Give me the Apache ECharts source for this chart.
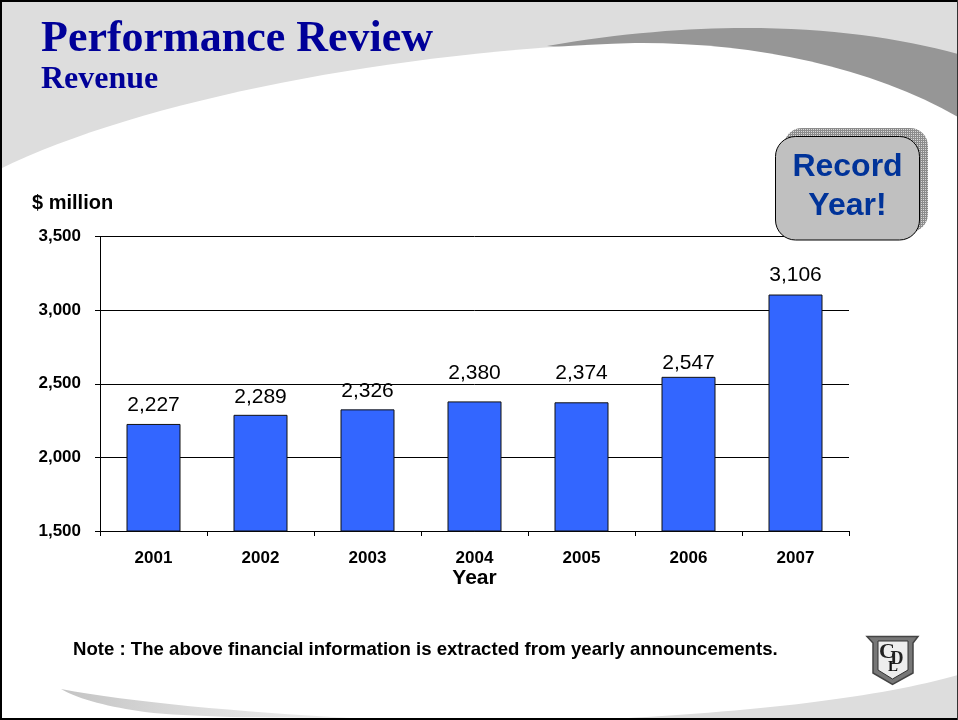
<!DOCTYPE html>
<html lang="en" style="height: 100%">

<head>
  <meta charset="utf-8">
</head>

<body style="height: 100%; margin: 0; background: #fff">
  <div id="container" style="height: 100%"></div>

  <script type="text/javascript" src="https://cdn.jsdelivr.net/npm/echarts@6/dist/echarts.min.js"></script>

  <script type="text/javascript">
    var years = ['2001', '2002', '2003', '2004', '2005', '2006', '2007'];
    var revenue = [2227, 2289, 2326, 2380, 2374, 2547, 3106];
    var yTicks = { min: 1500, max: 3500, interval: 500 };

    var titleText = 'Performance Review';
    var subtitleText = 'Revenue';
    var noteText = 'Note : The above financial information is extracted from yearly announcements.';
    var calloutText = 'Record\nYear!';

    // the value labels were hand-placed in the original, not a constant gap
    var labelGap = [8, 7, 8, 18, 19, 3, 9];

    var dom = document.getElementById('container');
    var myChart = echarts.init(dom, null, { renderer: 'canvas' });

    function fmt(v) {
      return String(v).replace(/\B(?=(\d{3})+$)/g, ',');
    }

    // the graphic component has no plain svg path type, so register each one
    function svgShape(name, pathData) {
      echarts.graphic.registerShape(name, echarts.graphic.extendPath(pathData, {}));
      return name;
    }

    // hatched shadow behind the callout
    var hatch = document.createElement('canvas');
    hatch.width = 2;
    hatch.height = 2;
    var hctx = hatch.getContext('2d');
    hctx.fillStyle = '#d8d8d8';
    hctx.fillRect(0, 0, 2, 2);
    hctx.fillStyle = '#8c8c8c';
    hctx.fillRect(0, 0, 1, 2);
    hctx.fillRect(0, 0, 2, 1);

    var SANS = '"Liberation Sans", Arial, sans-serif';
    var SERIF = '"Liberation Serif", serif';

    var option = {
      animation: false,
      backgroundColor: '#fff',
      title: {
        text: titleText,
        subtext: subtitleText,
        left: 41,
        top: 18,
        padding: 0,
        itemGap: 2,
        textStyle: { fontFamily: SERIF, fontSize: 44, fontWeight: 'bold', color: '#000099' },
        subtextStyle: { fontFamily: SERIF, fontSize: 32, fontWeight: 'bold', color: '#000099' }
      },
      grid: { left: 100, right: 109, top: 236.5, height: 294.5 },
      xAxis: {
        type: 'category',
        data: years,
        name: 'Year',
        nameLocation: 'middle',
        nameGap: 35,
        nameTextStyle: { fontFamily: SANS, fontSize: 21, fontWeight: 'bold', color: '#000' },
        axisLine: { lineStyle: { color: '#000', width: 1 } },
        axisTick: { show: true, alignWithLabel: false, length: 5, lineStyle: { color: '#000' } },
        axisLabel: { fontFamily: SANS, fontSize: 17, fontWeight: 'bold', color: '#000', margin: 19 }
      },
      yAxis: {
        type: 'value',
        min: yTicks.min,
        max: yTicks.max,
        interval: yTicks.interval,
        name: '$ million',
        nameLocation: 'end',
        nameGap: 23,
        nameTextStyle: { fontFamily: SANS, fontSize: 20, fontWeight: 'bold', color: '#000', align: 'left', padding: [0, 0, 0, -68] },
        axisLine: { show: true, lineStyle: { color: '#000', width: 1 } },
        axisTick: { show: true, length: 5, lineStyle: { color: '#000' } },
        splitLine: { show: true, lineStyle: { color: '#000', width: 1 } },
        axisLabel: { fontFamily: SANS, fontSize: 17, fontWeight: 'bold', color: '#000', margin: 19, padding: [4, 0, 0, 0], formatter: fmt }
      },
      series: [
        {
          type: 'bar',
          data: revenue.map(function (v, i) {
            return { value: v, label: { distance: labelGap[i] } };
          }),
          barWidth: 54,
          itemStyle: { color: '#3366ff', borderColor: '#111', borderWidth: 1 },
          label: {
            show: true,
            position: 'top',
            fontFamily: SANS,
            fontSize: 21,
            color: '#000',
            formatter: function (p) { return fmt(p.value); }
          }
        }
      ],
      graphic: [
        // slide background
        { type: 'rect', z: -20, shape: { x: 0, y: 0, width: 958, height: 175 }, style: { fill: '#dddddd' } },
        { type: svgShape('swoosh', 'M547 46 C 620 33 690 28 745 28 C 830 28 900 38 958 54 L958 118 L800 60 Z'), z: -19, style: { fill: '#969696' } },
        { type: svgShape('page', 'M0 169 C 140 100 400 50 635 43 C 750 42 870 66 958 117 L958 720 L0 720 Z'), z: -18, style: { fill: '#ffffff' } },
        { type: svgShape('cornerR', 'M958 675 C 880 697 760 712 590 720 L958 720 Z'), z: -17, style: { fill: '#dddddd' } },
        { type: svgShape('cornerL', 'M61 689 C 130 702 240 712 350 718 C 260 718 190 717 145 712 C 110 707 80 700 61 689 Z'), z: -17,
          style: { fill: new echarts.graphic.LinearGradient(0, 0, 1, 0, [{ offset: 0, color: '#c4c4c4' }, { offset: 0.5, color: '#dddddd' }, { offset: 1, color: '#efefef' }]) } },
        // slide frame
        { type: 'rect', z: 90, shape: { x: 0, y: 0, width: 958, height: 2 }, style: { fill: '#000' } },
        { type: 'rect', z: 90, shape: { x: 0, y: 0, width: 2, height: 720 }, style: { fill: '#000' } },
        { type: 'rect', z: 90, shape: { x: 0, y: 718, width: 958, height: 2 }, style: { fill: '#000' } },
        { type: 'rect', z: 90, shape: { x: 957, y: 0, width: 1, height: 720 }, style: { fill: '#333' } },
        // callout
        { type: 'rect', z: 100, shape: { x: 784, y: 128, width: 144, height: 104, r: 18 }, style: { fill: { image: hatch, repeat: 'repeat' } } },
        { type: 'rect', z: 101, shape: { x: 775.5, y: 136.5, width: 144, height: 103.5, r: 20 }, style: { fill: '#c0c0c0', stroke: '#000', lineWidth: 1 } },
        { type: 'text', z: 102, x: 847.5, y: 187, style: { text: calloutText, fill: '#003399', font: 'bold 32px ' + SANS, textAlign: 'center', textVerticalAlign: 'middle', lineHeight: 39 } },
        // note
        { type: 'text', z: 50, x: 73, y: 650, style: { text: noteText, fill: '#000', font: 'bold 18.6px ' + SANS, textVerticalAlign: 'middle' } },
        // company crest
        { type: svgShape('crestOuter', 'M867 636.5 L918 636.5 L913 643 L913 673 L892.5 684.5 L873 673 L873 643 Z'), z: 50, style: { fill: '#777777', stroke: '#444', lineWidth: 1.5 } },
        { type: svgShape('crestInner', 'M878 641 L908 641 L908 670 L892.5 679 L878 670 Z'), z: 51, style: { fill: '#eeeeee', stroke: '#333', lineWidth: 1 } },
        { type: 'text', z: 52, x: 887, y: 652, style: { text: 'C', fill: '#222', font: 'bold 22px ' + SERIF, textAlign: 'center', textVerticalAlign: 'middle' } },
        { type: 'text', z: 52, x: 897, y: 659, style: { text: 'D', fill: '#222', font: 'bold 18px ' + SERIF, textAlign: 'center', textVerticalAlign: 'middle' } },
        { type: 'text', z: 52, x: 893, y: 667, style: { text: 'L', fill: '#111', font: 'bold 15px ' + SERIF, textAlign: 'center', textVerticalAlign: 'middle' } }
      ]
    };

    myChart.setOption(option);
    window.addEventListener('resize', myChart.resize);
  </script>
</body>

</html>
